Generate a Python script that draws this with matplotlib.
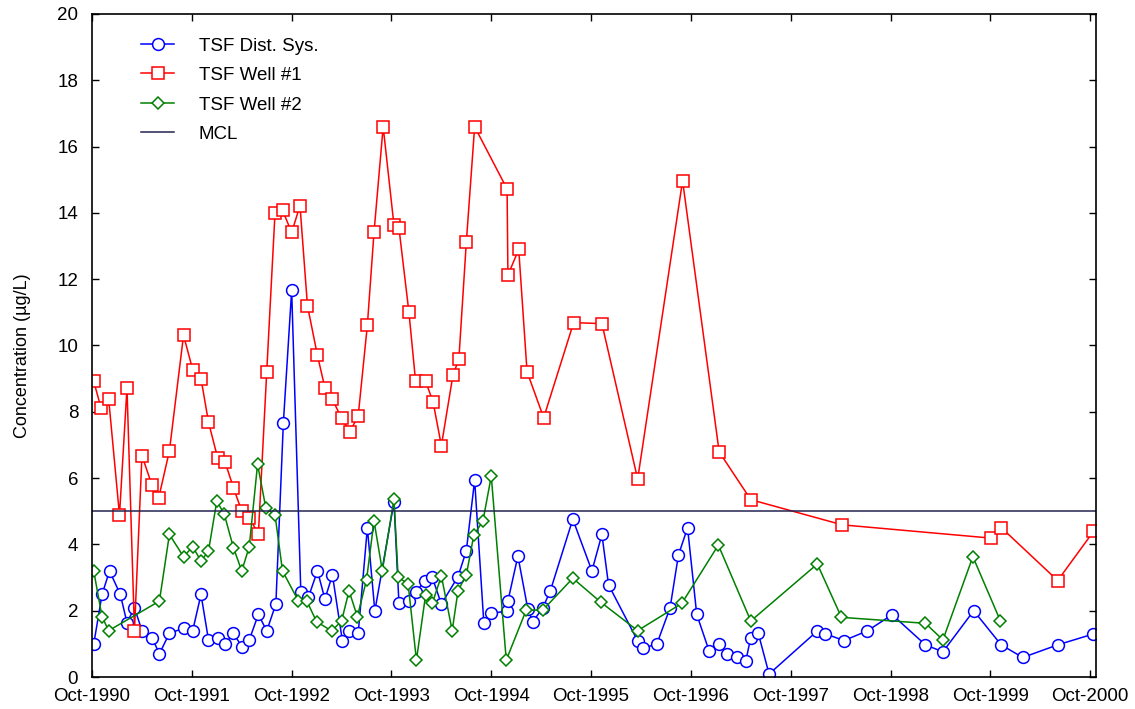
"""
Concentration time series for TSF sampling points, Oct-1990 to Oct-2000.
"""
import numpy as np
import matplotlib
matplotlib.use("Agg")  # Use non-interactive backend
import matplotlib.pyplot as plt

# Sample dates are stored as months since Oct-1990
dist_months = [0.2, 1.2, 2.1, 3.4, 4.2, 5.1, 6.0, 7.2, 8.1, 9.3, 11.0, 12.1, 13.1, 14.0, 15.1,
               16.0, 17.0, 18.0, 18.9, 20.0, 21.0, 22.1, 23.0, 24.0, 25.1, 26.0, 27.1, 28.0, 28.9, 30.1,
               30.9, 32.0, 33.1, 34.0, 36.3, 36.9, 38.1, 39.0, 40.0, 40.9, 42.0, 44.0, 45.0, 46.0, 47.1,
               48.0, 49.9, 50.0, 51.2, 52.4, 53.0, 54.2, 55.1, 57.8, 60.1, 61.3, 62.1, 65.6, 66.3, 67.9,
               69.5, 70.5, 71.6, 72.7, 74.2, 75.4, 76.4, 77.6, 78.6, 79.2, 80.1, 81.4, 87.2, 88.1, 90.4,
               93.2, 96.2, 100.2, 102.3, 106.0, 109.3, 111.9, 116.1, 120.4]
dist_conc = [0.99, 2.49, 3.20, 2.49, 1.64, 2.09, 1.40, 1.19, 0.70, 1.32, 1.47, 1.40, 2.49, 1.12, 1.19,
             0.99, 1.32, 0.92, 1.12, 1.89, 1.39, 2.20, 7.66, 11.67, 2.57, 2.40, 3.20, 2.35, 3.08, 1.09,
             1.39, 1.32, 4.50, 1.99, 5.28, 2.22, 2.29, 2.57, 2.91, 3.01, 2.20, 3.03, 3.81, 5.94, 1.64,
             1.92, 1.99, 2.29, 3.65, 2.04, 1.67, 2.09, 2.60, 4.76, 3.20, 4.30, 2.78, 1.09, 0.88, 0.99,
             2.09, 3.68, 4.50, 1.89, 0.78, 0.99, 0.70, 0.59, 0.49, 1.19, 1.32, 0.09, 1.39, 1.31, 1.10,
             1.39, 1.88, 0.97, 0.76, 2.00, 0.97, 0.59, 0.97, 1.30]

well1_months = [0.2, 1.1, 2.0, 3.3, 4.2, 5.1, 6.0, 7.2, 8.0, 9.3, 11.0, 12.1, 13.1, 14.0, 15.1,
                16.0, 17.0, 18.0, 18.9, 20.0, 21.0, 22.0, 22.9, 24.0, 25.0, 25.9, 27.1, 28.0, 28.9, 30.0,
                31.0, 32.0, 33.1, 33.9, 35.0, 36.3, 36.9, 38.1, 38.9, 40.1, 41.0, 42.0, 43.4, 44.1, 45.0,
                46.0, 49.9, 50.0, 51.3, 52.3, 54.3, 57.9, 61.3, 65.6, 71.0, 75.4, 79.2, 90.2, 108.1, 109.3,
                116.1, 120.4]
well1_conc = [8.92, 8.10, 8.38, 4.88, 8.72, 1.40, 6.68, 5.79, 5.39, 6.82, 10.31, 9.27, 9.00, 7.69, 6.61,
              6.48, 5.71, 5.00, 4.80, 4.32, 9.20, 14.01, 14.08, 13.41, 14.22, 11.20, 9.70, 8.72, 8.38, 7.80,
              7.40, 7.88, 10.61, 13.41, 16.60, 13.63, 13.54, 11.00, 8.92, 8.92, 8.30, 6.98, 9.12, 9.58, 13.12,
              16.60, 14.72, 12.12, 12.90, 9.21, 7.82, 10.69, 10.66, 5.97, 14.97, 6.79, 5.35, 4.59, 4.19, 4.51,
              2.91, 4.39]

well2_months = [0.2, 1.2, 2.0, 8.1, 9.3, 11.0, 12.1, 13.1, 14.0, 15.0, 15.9, 17.0, 18.0, 18.9, 19.9,
                20.9, 22.0, 22.9, 24.8, 25.8, 27.0, 28.8, 30.0, 30.9, 31.9, 33.0, 33.9, 34.9, 36.3, 36.8,
                38.0, 39.0, 40.1, 40.9, 42.0, 43.3, 44.0, 45.0, 45.9, 47.0, 48.0, 49.8, 52.2, 54.2, 57.8,
                61.2, 65.6, 70.9, 75.3, 79.2, 87.2, 90.1, 100.2, 102.3, 105.9, 109.2]
well2_conc = [3.20, 1.82, 1.40, 2.29, 4.30, 3.63, 3.93, 3.50, 3.80, 5.31, 4.91, 3.90, 3.20, 3.93, 6.42,
              5.09, 4.89, 3.20, 2.30, 2.30, 1.67, 1.39, 1.69, 2.60, 1.82, 2.93, 4.71, 3.21, 5.36, 3.01,
              2.81, 0.51, 2.47, 2.22, 3.05, 1.40, 2.60, 3.08, 4.28, 4.71, 6.06, 0.51, 2.02, 2.02, 2.98,
              2.25, 1.40, 2.22, 3.98, 1.69, 3.41, 1.80, 1.62, 1.12, 3.63, 1.70]

mcl_value = 5.0
year_labels = ["Oct-1990", "Oct-1991", "Oct-1992", "Oct-1993", "Oct-1994", "Oct-1995",
               "Oct-1996", "Oct-1997", "Oct-1998", "Oct-1999", "Oct-2000"]

plt.rcParams["font.family"] = ["Liberation Sans", "DejaVu Sans"]

fig = plt.figure(figsize=(11.35, 7.09), dpi=100)
ax = fig.add_axes([0.0811, 0.0451, 0.8845, 0.9352])

ax.plot(dist_months, dist_conc, color="#0000ff", linewidth=1.1, marker="o",
        markersize=8.5, markerfacecolor="white", markeredgewidth=1.1, label="TSF Dist. Sys.")
ax.plot(well1_months, well1_conc, color="#ff0000", linewidth=1.1, marker="s",
        markersize=9, markerfacecolor="white", markeredgewidth=1.1, label="TSF Well #1")
ax.plot(well2_months, well2_conc, color="#008000", linewidth=1.1, marker="D",
        markersize=6, markerfacecolor="white", markeredgewidth=1.1, label="TSF Well #2")
ax.axhline(mcl_value, color="#23234f", linewidth=1.1, label="MCL")

ax.set_xlim(0, 120.7)
ax.set_ylim(0, 20)
ax.set_xticks(np.arange(len(year_labels)) * 12)
ax.set_xticklabels(year_labels)
ax.set_yticks(np.arange(0, 21, 2))

ax.tick_params(direction="in", length=5, width=1, top=True, right=True,
               labelsize=13.5, colors="black")
ax.tick_params(axis="x", pad=8)
ax.tick_params(axis="y", pad=10)
for spine in ax.spines.values():
    spine.set_linewidth(1.2)

ax.set_ylabel("Concentration (µg/L)", fontsize=13, labelpad=19, y=0.484)

ax.legend(loc="upper left", bbox_to_anchor=(0.041, 0.976), frameon=False,
          fontsize=13.5, handlelength=1.8, handletextpad=1.3, labelspacing=0.66,
          borderaxespad=0)

fig.savefig("out.png", dpi=100)
plt.close(fig)
